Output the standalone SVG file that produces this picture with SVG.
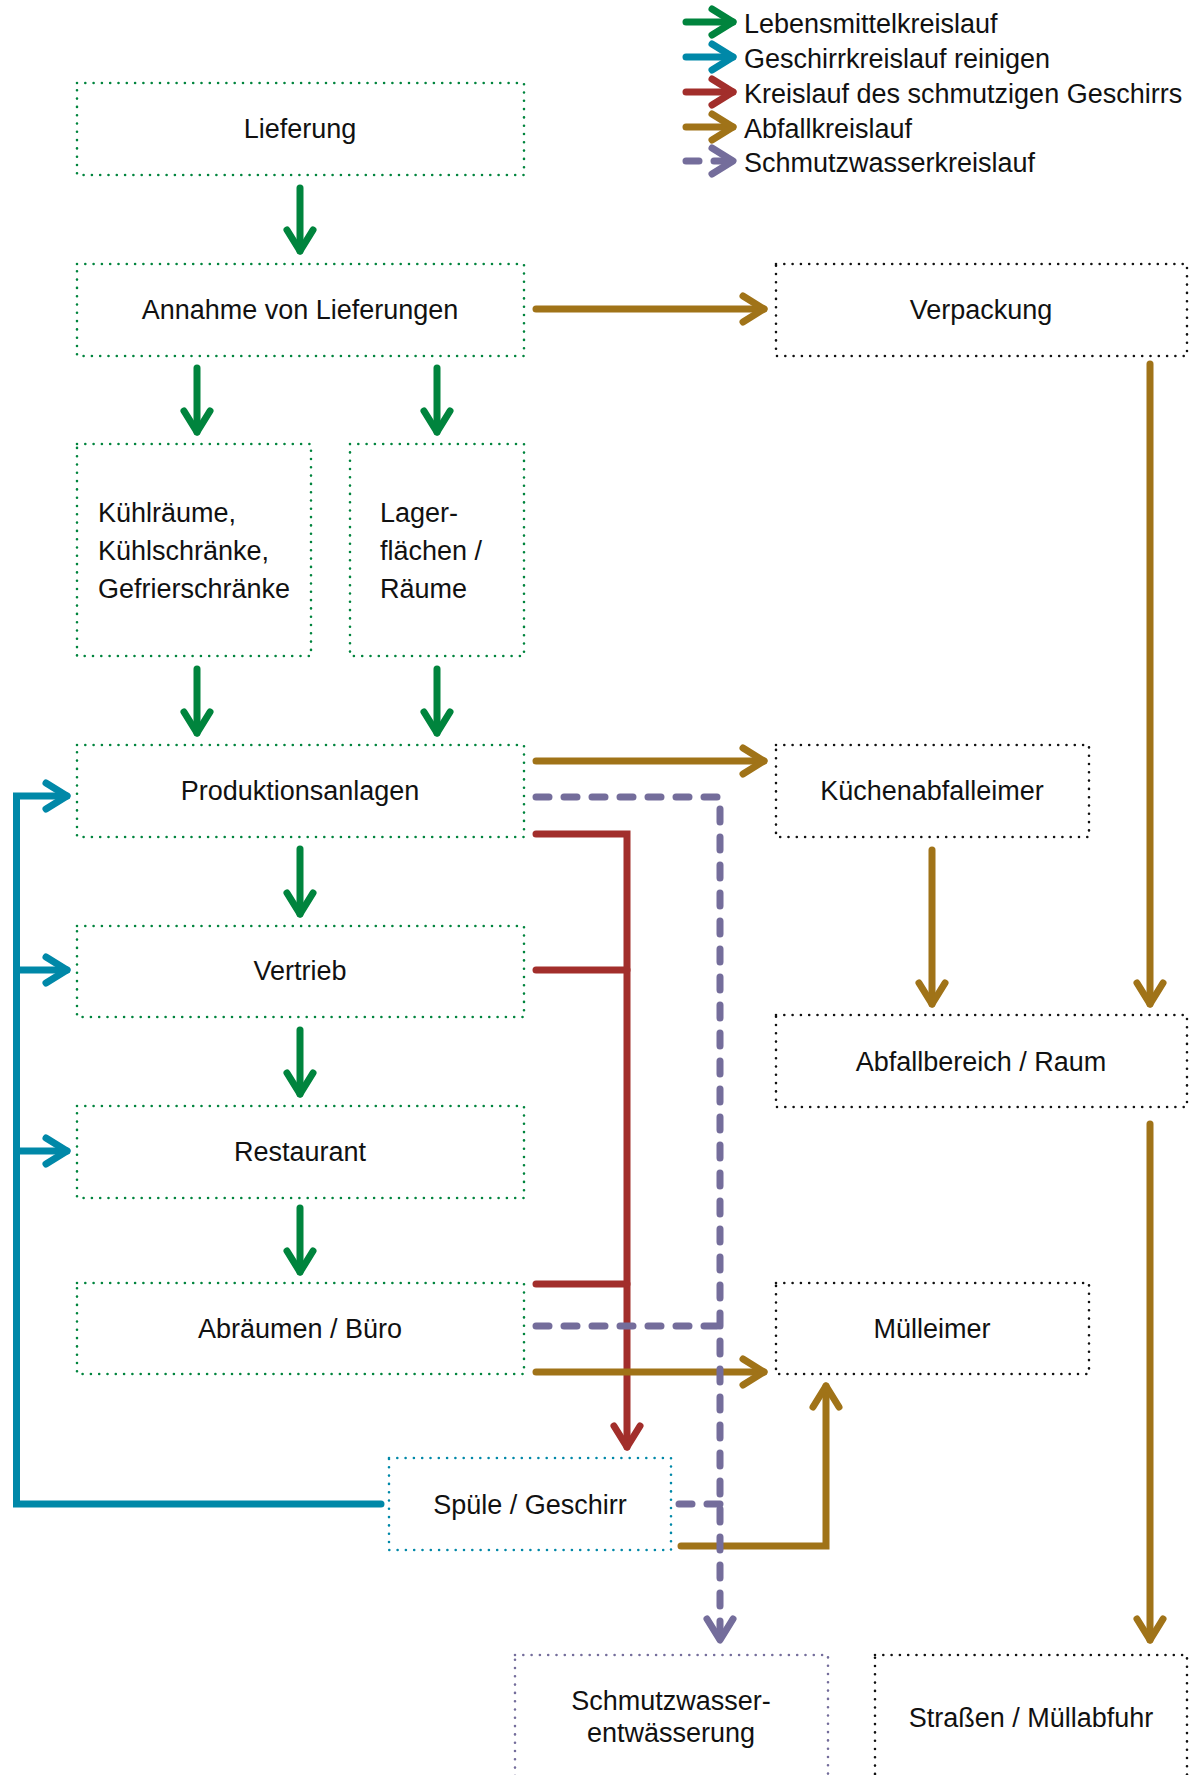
<svg xmlns="http://www.w3.org/2000/svg" width="1200" height="1775" viewBox="0 0 1200 1775">
<style>
  .t { font-family: "Liberation Sans", Arial, sans-serif; font-size: 27px; fill: #111; }
  .c { text-anchor: middle; }
  .box { fill: none; stroke-width: 2.6; stroke-dasharray: 0 8.3; stroke-linecap: round; }
  .bg { stroke: #00843D; }
  .bk { stroke: #111; }
  .bb { stroke: #0088A8; }
  .bp { stroke: #746D9B; }
  .ln { fill: none; stroke-width: 7; stroke-linecap: round; stroke-linejoin: miter; }
  .g { stroke: #00843D; }
  .b { stroke: #0088A8; }
  .r { stroke: #A22E2B; }
  .o { stroke: #A07318; }
  .p { stroke: #746D9B; stroke-dasharray: 13 15; }
</style>
<defs>
  <marker id="mg" markerUnits="userSpaceOnUse" viewBox="-30 -20 40 40" refX="0" refY="0" markerWidth="40" markerHeight="40" orient="auto">
    <path d="M-21 -13 L0 0 L-21 13" fill="none" stroke="#00843D" stroke-width="7" stroke-linecap="round" stroke-linejoin="round"/>
  </marker>
  <marker id="mb" markerUnits="userSpaceOnUse" viewBox="-30 -20 40 40" refX="0" refY="0" markerWidth="40" markerHeight="40" orient="auto">
    <path d="M-21 -13 L0 0 L-21 13" fill="none" stroke="#0088A8" stroke-width="7" stroke-linecap="round" stroke-linejoin="round"/>
  </marker>
  <marker id="mr" markerUnits="userSpaceOnUse" viewBox="-30 -20 40 40" refX="0" refY="0" markerWidth="40" markerHeight="40" orient="auto">
    <path d="M-21 -13 L0 0 L-21 13" fill="none" stroke="#A22E2B" stroke-width="7" stroke-linecap="round" stroke-linejoin="round"/>
  </marker>
  <marker id="mo" markerUnits="userSpaceOnUse" viewBox="-30 -20 40 40" refX="0" refY="0" markerWidth="40" markerHeight="40" orient="auto">
    <path d="M-21 -13 L0 0 L-21 13" fill="none" stroke="#A07318" stroke-width="7" stroke-linecap="round" stroke-linejoin="round"/>
  </marker>
  <marker id="mp" markerUnits="userSpaceOnUse" viewBox="-30 -20 40 40" refX="0" refY="0" markerWidth="40" markerHeight="40" orient="auto">
    <path d="M-21 -13 L0 0 L-21 13" fill="none" stroke="#746D9B" stroke-width="7" stroke-linecap="round" stroke-linejoin="round" stroke-dasharray="none"/>
  </marker>
</defs>
<rect width="1200" height="1775" fill="#fff"/>

<g id="legend">
  <path class="ln g" d="M686 22 H733" marker-end="url(#mg)"/>
  <text class="t" x="744" y="33">Lebensmittelkreislauf</text>
  <path class="ln b" d="M686 57 H733" marker-end="url(#mb)"/>
  <text class="t" x="744" y="68">Geschirrkreislauf reinigen</text>
  <path class="ln r" d="M686 92 H733" marker-end="url(#mr)"/>
  <text class="t" x="744" y="103">Kreislauf des schmutzigen Geschirrs</text>
  <path class="ln o" d="M686 127 H733" marker-end="url(#mo)"/>
  <text class="t" x="744" y="138">Abfallkreislauf</text>
  <path class="ln p" d="M686 161 H733" stroke-dasharray="9 6" marker-end="url(#mp)"/>
  <text class="t" x="744" y="172">Schmutzwasserkreislauf</text>
</g>

<g id="connectors">
  <!-- green -->
  <path class="ln g" d="M300 188 V251" marker-end="url(#mg)"/>
  <path class="ln g" d="M197 368 V432" marker-end="url(#mg)"/>
  <path class="ln g" d="M437 368 V432" marker-end="url(#mg)"/>
  <path class="ln g" d="M197 669 V733" marker-end="url(#mg)"/>
  <path class="ln g" d="M437 669 V733" marker-end="url(#mg)"/>
  <path class="ln g" d="M300 849 V914" marker-end="url(#mg)"/>
  <path class="ln g" d="M300 1030 V1094" marker-end="url(#mg)"/>
  <path class="ln g" d="M300 1208 V1272" marker-end="url(#mg)"/>
  <!-- blue -->
  <path class="ln b" d="M381 1504 H16.5 V796 H67" marker-end="url(#mb)"/>
  <path class="ln b" d="M16.5 970 H67" marker-end="url(#mb)"/>
  <path class="ln b" d="M16.5 1151 H67" marker-end="url(#mb)"/>
  <!-- red -->
  <path class="ln r" d="M536 834 H627 V1447" marker-end="url(#mr)"/>
  <path class="ln r" d="M536 970 H627"/>
  <path class="ln r" d="M536 1284 H627"/>
  <!-- brown -->
  <path class="ln o" d="M536 309 H764" marker-end="url(#mo)"/>
  <path class="ln o" d="M536 761 H764" marker-end="url(#mo)"/>
  <path class="ln o" d="M932 850 V1004" marker-end="url(#mo)"/>
  <path class="ln o" d="M1150 364 V1004" marker-end="url(#mo)"/>
  <path class="ln o" d="M1150 1124 V1640" marker-end="url(#mo)"/>
  <path class="ln o" d="M536 1372 H764" marker-end="url(#mo)"/>
  <path class="ln o" d="M681 1546 H826 V1386" marker-end="url(#mo)"/>
  <!-- purple dashed -->
  <path class="ln p" d="M536 797 H720 V1640" marker-end="url(#mp)"/>
  <path class="ln p" d="M536 1326 H720"/>
  <path class="ln p" d="M679 1504 H720"/>
</g>

<g id="n-lieferung"><rect class="box bg" x="77" y="83" width="447" height="92"/><text class="t c" x="300" y="138">Lieferung</text></g>
<g id="n-annahme"><rect class="box bg" x="77" y="264" width="447" height="92"/><text class="t c" x="300" y="319">Annahme von Lieferungen</text></g>
<g id="n-verpackung"><rect class="box bk" x="776" y="264" width="411" height="92"/><text class="t c" x="981" y="319">Verpackung</text></g>
<g id="n-kuehl"><rect class="box bg" x="77" y="444" width="234" height="212"/>
  <text class="t" x="98" y="522">Kühlräume,</text>
  <text class="t" x="98" y="560">Kühlschränke,</text>
  <text class="t" x="98" y="598">Gefrierschränke</text></g>
<g id="n-lager"><rect class="box bg" x="350" y="444" width="174" height="212"/>
  <text class="t" x="380" y="522">Lager-</text>
  <text class="t" x="380" y="560">flächen /</text>
  <text class="t" x="380" y="598">Räume</text></g>
<g id="n-produktion"><rect class="box bg" x="77" y="745" width="447" height="92"/><text class="t c" x="300" y="800">Produktionsanlagen</text></g>
<g id="n-kuechenabfall"><rect class="box bk" x="776" y="745" width="313" height="92"/><text class="t c" x="932" y="800">Küchenabfalleimer</text></g>
<g id="n-vertrieb"><rect class="box bg" x="77" y="926" width="447" height="91"/><text class="t c" x="300" y="980">Vertrieb</text></g>
<g id="n-abfallbereich"><rect class="box bk" x="776" y="1015" width="411" height="92"/><text class="t c" x="981" y="1071">Abfallbereich / Raum</text></g>
<g id="n-restaurant"><rect class="box bg" x="77" y="1106" width="447" height="92"/><text class="t c" x="300" y="1161">Restaurant</text></g>
<g id="n-abraeumen"><rect class="box bg" x="77" y="1283" width="447" height="91"/><text class="t c" x="300" y="1338">Abräumen / Büro</text></g>
<g id="n-muelleimer"><rect class="box bk" x="776" y="1283" width="313" height="91"/><text class="t c" x="932" y="1338">Mülleimer</text></g>
<g id="n-spuele"><rect class="box bb" x="389" y="1458" width="282" height="92"/><text class="t c" x="530" y="1514">Spüle / Geschirr</text></g>
<g id="n-schmutzwasser"><rect class="box bp" x="515" y="1655" width="313" height="150"/>
  <text class="t c" x="671" y="1710">Schmutzwasser-</text>
  <text class="t c" x="671" y="1742">entwässerung</text></g>
<g id="n-strassen"><rect class="box bk" x="875" y="1655" width="312" height="150"/><text class="t c" x="1031" y="1727">Straßen / Müllabfuhr</text></g>
</svg>
